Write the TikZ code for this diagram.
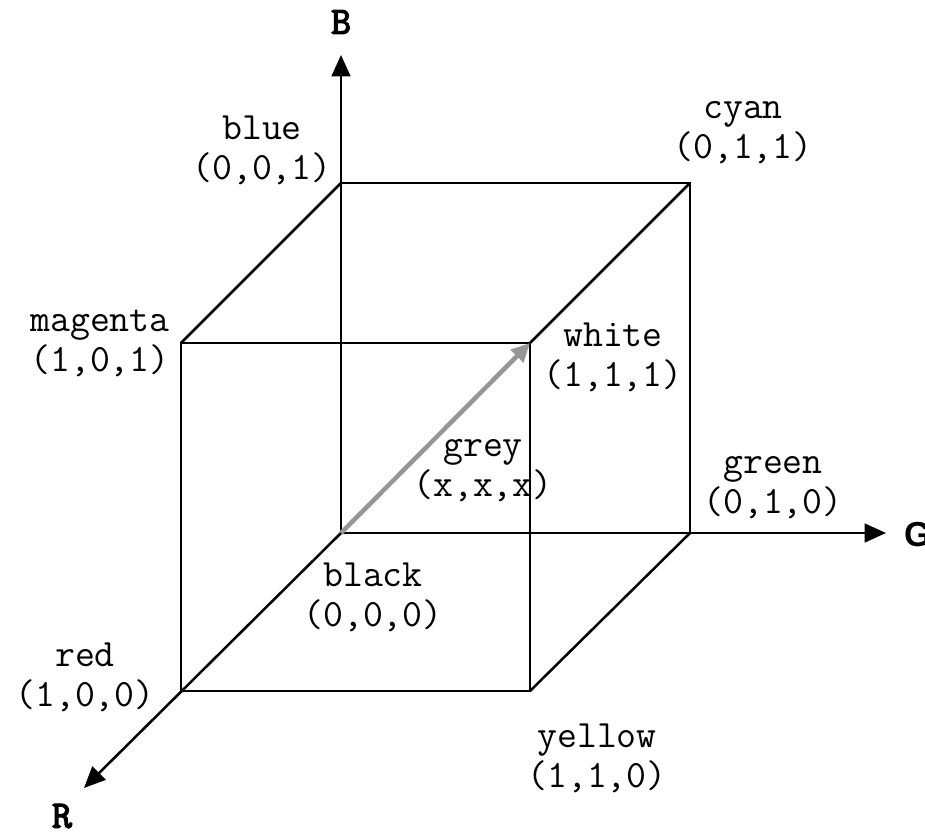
\documentclass[tikz,border=0pt]{standalone}
\usepackage{fontspec}
\setsansfont{Liberation Sans}
\newfontfamily\axisfont[AutoFakeBold=3.5]{Latin Modern Mono}
\usepackage{tikz}
\usetikzlibrary{arrows.meta,positioning}
\definecolor{greyarrow}{RGB}{150,150,150}
\tikzset{
  cornerlabel/.style={font=\fontsize{29}{30}\selectfont\ttfamily,align=center,inner sep=0pt},
  axislabel/.style={font=\fontsize{29}{30}\selectfont\axisfont\bfseries,inner sep=0pt},
  edge/.style={line width=1.9pt,line cap=round,line join=round},
  axis/.style={-{Triangle[length=16pt,width=14pt]},line width=1.9pt},
  diag/.style={-{Triangle[length=14pt,width=13pt]},line width=3.4pt,draw=greyarrow}
}
\begin{document}
\begin{tikzpicture}[x=0.75pt,y=-0.75pt]
  \useasboundingbox (0,0) rectangle (925,835);
  % cube corners
  \coordinate (black) at (341,533);
  \coordinate (blue) at (341,183);
  \coordinate (green) at (690,533);
  \coordinate (cyan) at (690,183);
  \coordinate (red) at (181,691);
  \coordinate (magenta) at (181,343);
  \coordinate (white) at (530,343);
  \coordinate (yellow) at (530,691);
  \coordinate (btip) at (341,55);
  \coordinate (gtip) at (886,533);
  \coordinate (rtip) at (84,788);

  % axes
  \draw[axis] (black) -- (btip);
  \draw[axis] (black) -- (gtip);
  \draw[axis] (black) -- (rtip);

  % edges
  \draw[edge] (blue) -- (cyan) -- (green);
  \draw[edge] (magenta) -- (white) -- (yellow) -- (red) -- cycle;
  \draw[edge] (blue) -- (magenta);
  \draw[edge] (cyan) -- (white);
  \draw[edge] (green) -- (yellow);

  % grey diagonal
  \draw[diag] (black) -- (white);

  % labels
  \node[axislabel] (blab) at (341,22) {B};
  \node[axislabel,font=\fontsize{26}{30}\selectfont\sffamily\bfseries,anchor=west] (glab) at (904,535) {G};
  \node[axislabel] (rlab) at (62,816) {R};
  \node[cornerlabel] (bluelab) at (262,150) {blue\\(0,0,1)};
  \node[cornerlabel] (cyanlab) at (743,133) {cyan\\(0,1,1)};
  \node[cornerlabel] (magentalab) at (100,343) {magenta\\(1,0,1)};
  \node[cornerlabel] (whitelab) at (613,357) {white\\(1,1,1)};
  \node[cornerlabel] (greylab) at (483,471) {grey\\(x,x,x)};
  \node[cornerlabel] (greenlab) at (773,488) {green\\(0,1,0)};
  \node[cornerlabel] (blacklab) at (373,597) {black\\(0,0,0)};
  \node[cornerlabel] (redlab) at (85,677) {red\\(1,0,0)};
  \node[cornerlabel] (yellowlab) at (597,758) {yellow\\(1,1,0)};
\end{tikzpicture}
\end{document}
